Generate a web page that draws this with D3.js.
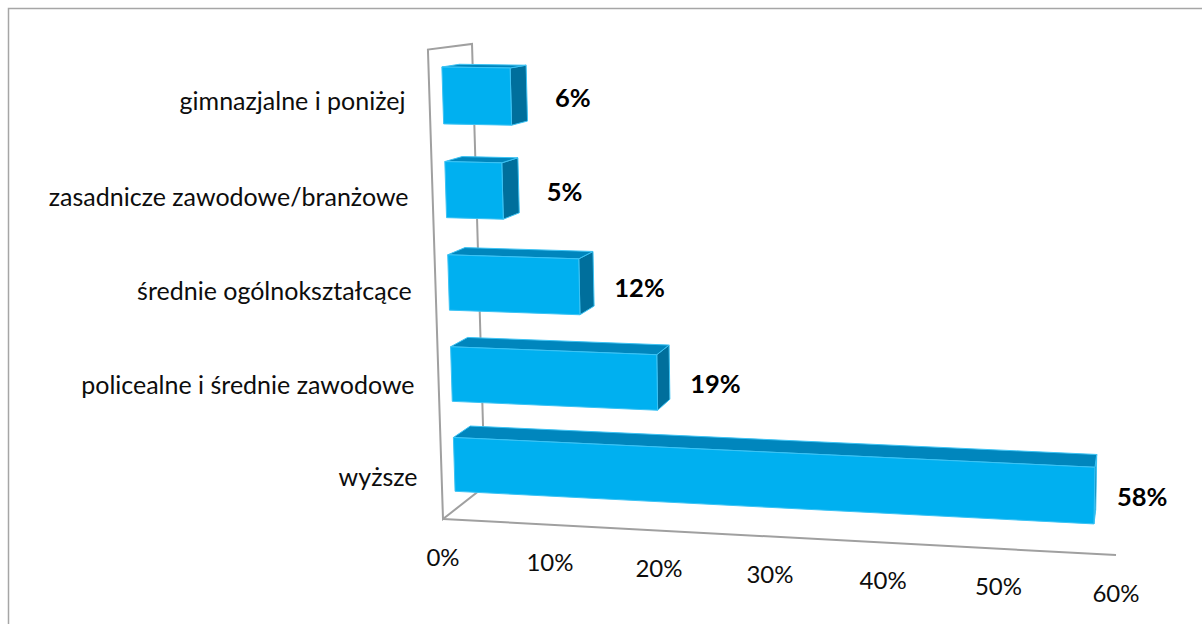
<!DOCTYPE html>
<html>
<head>
<meta charset="utf-8">
<script src="https://cdn.jsdelivr.net/npm/d3@7"></script>
<style>
  body { margin: 0; background: #fff; }
  svg { display: block; }
</style>
</head>
<body>
<div id="chart"></div>
<script>
// data (top to bottom as shown)
var categories = ["gimnazjalne i poniżej", "zasadnicze zawodowe/branżowe", "średnie ogólnokształcące", "policealne i średnie zawodowe", "wyższe"];
var values = [0.063, 0.053, 0.122, 0.192, 0.58];
var tickValues = [0, 0.1, 0.2, 0.3, 0.4, 0.5, 0.6];

var width = 1202, height = 624;

var svg = d3.select("#chart").append("svg")
    .attr("width", width)
    .attr("height", height);

// outer chart border
svg.append("rect")
    .attr("x", 8.5).attr("y", 8.5)
    .attr("width", 1300).attr("height", 800)
    .attr("fill", "none")
    .attr("stroke", "#a6a6a6")
    .attr("stroke-width", 1.5);

// value -> box x (0..1), category -> box height (0..1), depth 0 front .. 1 back
var x = d3.scaleLinear().domain([0, 0.6]).range([0, 1]);
var y = d3.scaleBand().domain(categories).range([1, 0])
    .paddingInner(0.4).paddingOuter(0.2);
var zFront = 0.29, zBack = 0.69;

// perspective projection of the 3d box onto the page
var P = [
  [611.6, -29.96, 71.53, 443],
  [5.5, -471.1, -2.763, 519],
  [-0.055, -0.0348, 0.0614, 1]
];
function proj(t, s, z) {
  var w = P[2][0] * t + P[2][1] * s + P[2][2] * z + P[2][3];
  return [
    (P[0][0] * t + P[0][1] * s + P[0][2] * z + P[0][3]) / w,
    (P[1][0] * t + P[1][1] * s + P[1][2] * z + P[1][3]) / w
  ];
}
var poly = d3.line().curve(d3.curveLinearClosed);

// left wall outline and value axis line
var wall = svg.append("g")
    .attr("fill", "none")
    .attr("stroke", "#a0a0a0")
    .attr("stroke-width", 2);
wall.append("path")
    .attr("d", poly([proj(0, 0, 0), proj(0, 1, 0), proj(0, 1, 1), proj(0, 0, 1)]));
wall.append("path")
    .attr("d", d3.line()([proj(0, 0, 0), proj(1, 0, 0)]));

// value tick labels
svg.append("g").selectAll("text")
    .data(tickValues)
    .join("text")
    .attr("x", function(d) { return proj(x(d), 0, 0)[0]; })
    .attr("y", function(d) { return proj(x(d), 0, 0)[1] + 37; })
    .attr("text-anchor", "middle")
    .attr("dominant-baseline", "central")
    .attr("font-family", "Lato, 'Open Sans', sans-serif")
    .attr("font-size", 24)
    .attr("fill", "#0d0d0d")
    .text(d3.format(".0%"));

// category labels
svg.append("g").selectAll("text")
    .data(categories)
    .join("text")
    .attr("x", function(d) { return proj(0, y(d) + y.bandwidth() / 2, 0)[0] - 24; })
    .attr("y", function(d) { return proj(0, y(d) + y.bandwidth() / 2, 0)[1] + 2; })
    .attr("text-anchor", "end")
    .attr("dominant-baseline", "central")
    .attr("font-family", "Lato, 'Open Sans', sans-serif")
    .attr("font-size", 25)
    .attr("fill", "#0d0d0d")
    .text(function(d) { return d; });

// bars
var bars = svg.append("g").selectAll("g")
    .data(categories)
    .join("g")
    .attr("stroke", "#3cc3f4")
    .attr("stroke-width", 1)
    .attr("stroke-linejoin", "round");

bars.each(function(d, i) {
  var g = d3.select(this);
  var t = x(values[i]), s0 = y(d), s1 = y(d) + y.bandwidth();
  // right end
  g.append("path").attr("fill", "#006f9c")
      .attr("d", poly([proj(t, s0, zFront), proj(t, s1, zFront), proj(t, s1, zBack), proj(t, s0, zBack)]));
  // top
  g.append("path").attr("fill", "#0086bd")
      .attr("d", poly([proj(0, s1, zFront), proj(t, s1, zFront), proj(t, s1, zBack), proj(0, s1, zBack)]));
  // front
  g.append("path").attr("fill", "#00b0f0")
      .attr("d", poly([proj(0, s0, zFront), proj(t, s0, zFront), proj(t, s1, zFront), proj(0, s1, zFront)]));
});

// data labels
svg.append("g").selectAll("text")
    .data(categories)
    .join("text")
    .attr("x", function(d, i) { return proj(x(values[i]), y(d) + y.bandwidth() / 2, zBack)[0] + 46; })
    .attr("y", function(d, i) { return proj(x(values[i]), y(d) + y.bandwidth() / 2, zFront)[1]; })
    .attr("text-anchor", "middle")
    .attr("dominant-baseline", "central")
    .attr("font-family", "Lato, 'Open Sans', sans-serif")
    .attr("font-weight", "bold")
    .attr("font-size", 25.5)
    .attr("fill", "#000")
    .text(function(d, i) { return d3.format(".0%")(values[i]); });
</script>
</body>
</html>
